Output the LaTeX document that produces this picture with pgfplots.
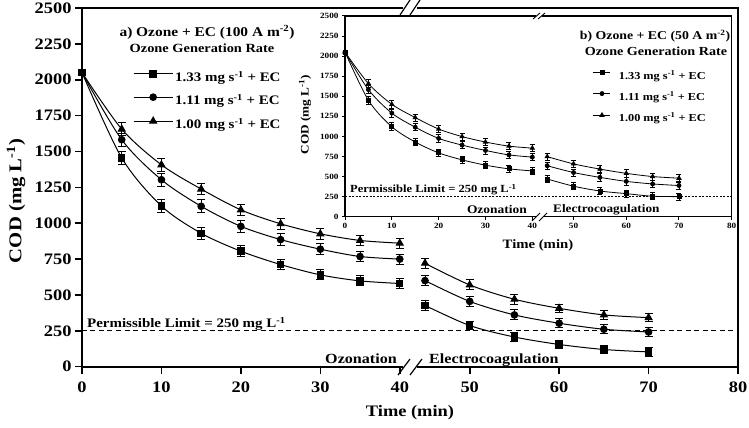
\documentclass[border=0pt]{standalone}
\usepackage{fontspec}
\setmainfont{Liberation Serif}[FakeStretch=1.15]
\usepackage{pgfplots}
\pgfplotsset{compat=1.18}
\usepackage{pgfplotstable}
\newcommand\fs[1]{\fontsize{#1}{#1}\selectfont\bfseries}

% 100 A m-2 (main)
\pgfplotstableread{
x y e
0 2050 0
5 1455 45
10 1120 45
15 930 40
20 805 40
25 712 35
30 640 35
35 598 35
40 580 35
}\aOz
\pgfplotstableread{
x y e
45 427 35
50 287 30
55 207 30
60 155 30
65 120 30
70 103 30
}\aEc
\pgfplotstableread{
x y e
0 2050 0
5 1582 45
10 1303 45
15 1118 45
20 978 40
25 886 40
30 819 40
35 768 35
40 750 35
}\bOz
\pgfplotstableread{
x y e
45 600 35
50 455 35
55 361 35
60 303 30
65 261 30
70 242 30
}\bEc
\pgfplotstableread{
x y e
0 2050 0
5 1656 45
10 1407 45
15 1238 40
20 1093 40
25 996 40
30 926 40
35 880 35
40 861 35
}\cOz
\pgfplotstableread{
x y e
45 721 35
50 570 35
55 470 35
60 407 30
65 361 30
70 342 30
}\cEc

% 50 A m-2 (inset)
\pgfplotstableread{
x y e
0 2050 0
5 1450 50
10 1120 50
15 930 45
20 795 45
25 708 45
30 642 45
35 596 45
40 570 45
}\iaOz
\pgfplotstableread{
x y e
45 470 45
50 380 45
55 320 45
60 287 45
65 255 45
70 250 45
}\iaEc
\pgfplotstableread{
x y e
0 2050 0
5 1583 50
10 1290 50
15 1115 45
20 975 45
25 892 45
30 825 45
35 770 45
40 742 45
}\ibOz
\pgfplotstableread{
x y e
45 635 45
50 550 45
55 490 45
60 440 45
65 408 45
70 388 45
}\ibEc
\pgfplotstableread{
x y e
0 2050 0
5 1658 50
10 1400 50
15 1235 45
20 1092 45
25 998 45
30 930 45
35 879 45
40 854 45
}\icOz
\pgfplotstableread{
x y e
45 748 45
50 658 45
55 593 45
60 540 45
65 500 45
70 480 45
}\icEc

\pgfplotsset{
  brk/.style={x coord trafo/.code={\pgfmathfloatparsenumber{##1}\pgfmathfloattofixed{\pgfmathresult}\let\brkv\pgfmathresult
     \ifdim\brkv pt<42pt \pgfmathparse{0.795*\brkv}\else\pgfmathparse{38.8+0.895*(\brkv-50)}\fi}},
  mser/.style={black, line width=1pt, smooth, mark=#1, mark options={solid, fill=black},
    error bars/y dir=both, error bars/y explicit,
    error bars/error bar style={line width=0.9pt, black},
    error bars/error mark options={rotate=90, mark size=4pt, line width=0.9pt, black}},
  iser/.style={black, line width=0.8pt, smooth, mark=#1, mark options={solid, fill=black},
    error bars/y dir=both, error bars/y explicit,
    error bars/error bar style={line width=0.7pt, black},
    error bars/error mark options={rotate=90, mark size=2.5pt, line width=0.7pt, black}},
}

\begin{document}
\begin{tikzpicture}
\path[use as bounding box] (0,0) rectangle (749pt,428pt);

% ---------------- main axis ----------------
\begin{axis}[brk,
  at={(82pt,61.3pt)}, anchor=south west, scale only axis,
  width=656pt, height=358.7pt,
  xmin=0, xmax=80, ymin=0, ymax=2500,
  xtick={0,10,20,30,40,50,60,70,80},
  xticklabels={0,10,20,30,40,50,60,70,80},
  ytick={0,250,500,750,1000,1250,1500,1750,2000,2250,2500},
  xtick pos=bottom, ytick pos=left, tick align=outside,
  major tick length=7pt,
  axis line style={line width=2.2pt},
  tick style={line width=1.6pt, black},
  tick label style={font=\fs{16}},
  xticklabel style={yshift=-5pt},
  /pgf/number format/assume math mode=true,
  /pgf/number format/1000 sep={},
  xlabel={Time (min)},
  xlabel style={font=\fs{16}, at={(axis description cs:0.5,-0.140)}, anchor=base},
  ylabel={COD (mg L\textsuperscript{-1})},
  ylabel style={font=\fs{18}, at={(axis description cs:-0.1006,0.462)}, anchor=center},
  legend style={at={(0.0777,0.8258)}, anchor=north west, draw=none, fill=none,
    inner sep=0pt, font=\fs{13}, row sep=9.5pt, column sep=2pt,
    nodes={inner sep=0pt, text height=10pt, text depth=3pt}},
  legend cell align=left,
  legend image code/.code={\draw[mark repeat=2,mark phase=2] plot coordinates {(0pt,4pt)(19.5pt,4pt)(39pt,4pt)};},
  clip=false,
]
\addplot[black, line width=1.2pt, dash pattern=on 5pt off 3.5pt, forget plot] coordinates {(0,250)(80,250)};
\addplot[mser=square*, mark size=3.2pt] table[x=x,y=y,y error=e]{\aOz};
\addlegendentry{1.33 mg s\textsuperscript{-1} + EC}
\addplot[mser=*, mark size=3.3pt] table[x=x,y=y,y error=e]{\bOz};
\addlegendentry{1.11 mg s\textsuperscript{-1} + EC}
\addplot[mser=triangle*, mark size=3.9pt] table[x=x,y=y,y error=e]{\cOz};
\addlegendentry{1.00 mg s\textsuperscript{-1} + EC}
\addplot[mser=square*, mark size=3.2pt, forget plot] table[x=x,y=y,y error=e]{\aEc};
\addplot[mser=*, mark size=3.3pt, forget plot] table[x=x,y=y,y error=e]{\bEc};
\addplot[mser=triangle*, mark size=3.9pt, forget plot] table[x=x,y=y,y error=e]{\cEc};
\end{axis}

% main texts
\node[anchor=base, font=\fs{13.4}] at (207pt,391pt) {a) Ozone + EC (100 A m\textsuperscript{-2})};
\node[anchor=base, font=\fs{12.5}] at (202pt,375pt) {Ozone Generation Rate};
\node[anchor=base west, font=\fs{13}, inner sep=0pt] at (87pt,100pt) {Permissible Limit = 250 mg L\textsuperscript{-1}};
\node[anchor=base east, font=\fs{14}, inner sep=0pt] at (397pt,64pt) {Ozonation};
\node[anchor=base west, font=\fs{14}, inner sep=0pt] at (429pt,64pt) {Electrocoagulation};
% main axis breaks
\fill[white] (403pt,55pt) rectangle (417pt,69pt);
\draw[line width=1.2pt] (398pt,53pt) -- (410pt,69pt) (410pt,53pt) -- (422pt,69pt);
\fill[white] (403pt,414pt) rectangle (417pt,426pt);
\draw[line width=1.2pt] (400pt,413pt) -- (410pt,428pt) (410pt,413pt) -- (420pt,428pt);

% ---------------- inset axis ----------------
\begin{axis}[brk,
  at={(345pt,211.3pt)}, anchor=south west, scale only axis,
  width=386.7pt, height=200.7pt,
  axis background/.style={fill=white},
  xmin=0, xmax=80, ymin=0, ymax=2500,
  xtick={0,10,20,30,40,50,60,70,80},
  xticklabels={0,10,20,30,40,50,60,70,80},
  ytick={0,250,500,750,1000,1250,1500,1750,2000,2250,2500},
  xtick pos=bottom, ytick pos=left, tick align=outside,
  major tick length=3pt,
  axis line style={line width=1.3pt},
  tick style={line width=1pt, black},
  tick label style={font=\fs{8}},
  /pgf/number format/assume math mode=true,
  /pgf/number format/1000 sep={},
  xlabel={Time (min)},
  xlabel style={font=\fs{12.8}, at={(axis description cs:0.499,-0.156)}, anchor=base},
  ylabel={COD (mg L\textsuperscript{-1})},
  ylabel style={font=\fs{11.5}, at={(axis description cs:-0.103,0.509)}, anchor=center},
  legend style={at={(0.641,0.730)}, anchor=north west, draw=none, fill=none,
    inner sep=0pt, font=\fs{10.7}, row sep=10pt, column sep=8pt,
    nodes={inner sep=0pt, text height=8.5pt, text depth=2.5pt}},
  legend cell align=left,
  legend image code/.code={\draw[mark repeat=2,mark phase=2] plot coordinates {(0pt,3.7pt)(8.5pt,3.7pt)(17pt,3.7pt)};},
  clip=false,
]
\addplot[black, line width=0.8pt, dash pattern=on 2pt off 1.5pt, forget plot] coordinates {(0,250)(80,250)};
\addplot[iser=square*, mark size=2pt] table[x=x,y=y,y error=e]{\iaOz};
\addlegendentry{1.33 mg s\textsuperscript{-1} + EC}
\addplot[iser=*, mark size=2pt] table[x=x,y=y,y error=e]{\ibOz};
\addlegendentry{1.11 mg s\textsuperscript{-1} + EC}
\addplot[iser=triangle*, mark size=2.4pt] table[x=x,y=y,y error=e]{\icOz};
\addlegendentry{1.00 mg s\textsuperscript{-1} + EC}
\addplot[iser=square*, mark size=2pt, forget plot] table[x=x,y=y,y error=e]{\iaEc};
\addplot[iser=*, mark size=2pt, forget plot] table[x=x,y=y,y error=e]{\ibEc};
\addplot[iser=triangle*, mark size=2.4pt, forget plot] table[x=x,y=y,y error=e]{\icEc};
\end{axis}

% inset texts
\node[anchor=base, font=\fs{12}] at (655pt,388pt) {b) Ozone + EC (50 A m\textsuperscript{-2})};
\node[anchor=base, font=\fs{12.3}] at (656pt,372pt) {Ozone Generation Rate};
\node[anchor=base west, font=\fs{10.9}, inner sep=0pt] at (350pt,235pt) {Permissible Limit = 250 mg L\textsuperscript{-1}};
\node[anchor=base east, font=\fs{11.7}, inner sep=0pt] at (527pt,214pt) {Ozonation};
\node[anchor=base west, font=\fs{11.5}, inner sep=0pt] at (553pt,215pt) {Electrocoagulation};
% inset axis breaks
\fill[white] (535.5pt,209pt) rectangle (543.5pt,214pt);
\draw[line width=0.9pt] (532pt,207pt) -- (540pt,215pt) (539pt,207pt) -- (547pt,215pt);
\fill[white] (536pt,410pt) rectangle (542pt,415pt);
\draw[line width=0.9pt] (533pt,409pt) -- (540pt,415pt) (538pt,409pt) -- (545pt,415pt);
\end{tikzpicture}
\end{document}
